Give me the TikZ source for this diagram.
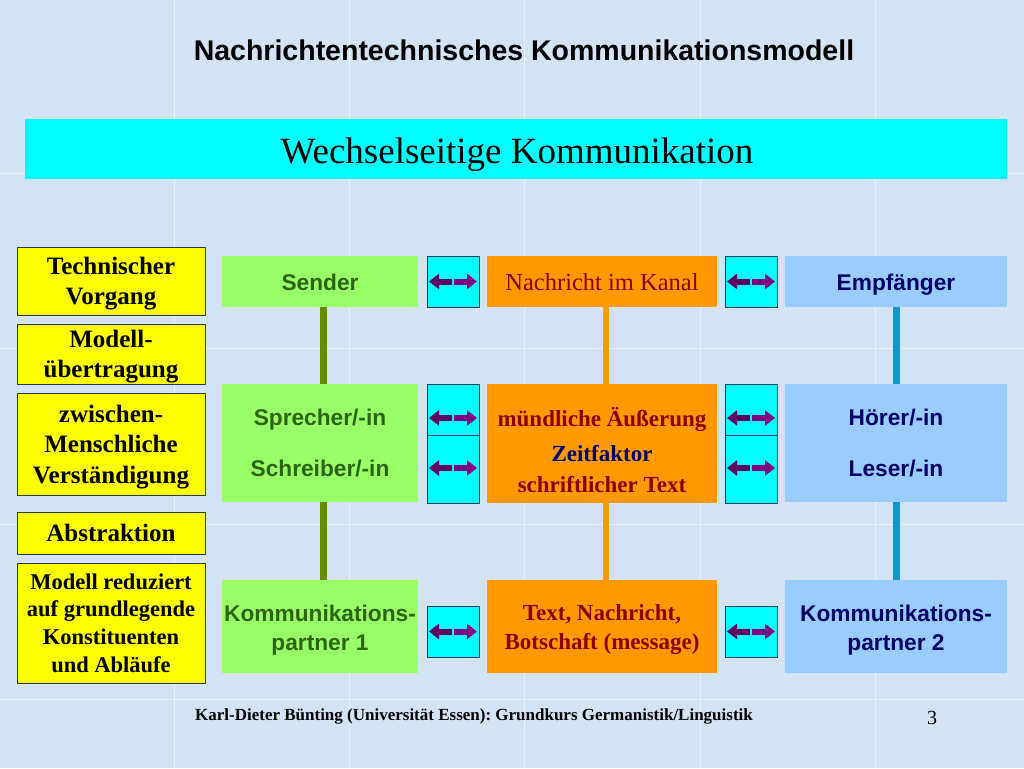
\documentclass[tikz,border=0pt]{standalone}
\usepackage{fontspec}
\setmainfont{Liberation Serif}
\setsansfont{Liberation Sans}
\usetikzlibrary{arrows.meta}
\frenchspacing

\definecolor{hgrund}{RGB}{212,227,243}
\definecolor{tuerkis}{RGB}{0,255,255}
\definecolor{gelb}{RGB}{255,255,0}
\definecolor{hgruen}{RGB}{153,255,102}
\definecolor{dgruen}{RGB}{45,100,20}
\definecolor{oliv}{RGB}{102,140,0}
\definecolor{orangefeld}{RGB}{255,153,0}
\definecolor{dunkelrot}{RGB}{140,0,0}
\definecolor{marine}{RGB}{0,0,102}
\definecolor{hblau}{RGB}{153,204,255}
\definecolor{stahlblau}{RGB}{20,150,204}
\definecolor{lila}{RGB}{128,0,128}
\definecolor{dlila}{RGB}{96,0,96}
\definecolor{rand}{RGB}{40,60,90}

\newcommand{\gr}[2]{\fontsize{#1}{#2}\selectfont}
% zwei Pfeile in einem Kasten: Knoten, Versatz nach unten
\newcommand{\doppelpfeil}[2]{%
	\draw[dlila, line width=6pt, -{Triangle[length=10pt,width=15pt]}] (#1.center) ++(-1,#2) -- ++(-23,0);
	\draw[lila, line width=6pt, -{Triangle[length=10pt,width=15pt]}] (#1.center) ++(1,#2) -- ++(23,0);
}

\tikzset{
	vorgang/.style={draw=rand, line width=0.8pt, fill=gelb, minimum width=188pt, align=center, inner sep=0pt, text depth=0pt, font=\bfseries\gr{25}{30.5}},
	sender/.style={fill=hgruen, minimum width=196pt, align=center, inner sep=0pt, text=dgruen, font=\sffamily\bfseries\gr{22.7}{29}},
	kanal/.style={fill=orangefeld, minimum width=230pt, align=center, inner sep=0pt, text=dunkelrot, font=\bfseries\gr{23}{29}},
	empfaenger/.style={fill=hblau, minimum width=222pt, align=center, inner sep=0pt, text=marine, font=\sffamily\bfseries\gr{22.7}{29}},
	pfeilkasten/.style={draw=rand, line width=0.8pt, fill=tuerkis, minimum width=52pt, inner sep=0pt},
	zeile/.style={text height=22pt, text depth=4pt},
	verbinder/.style={line width=7pt},
}

\begin{document}
\begin{tikzpicture}[x=1pt, y=-1pt]
	\useasboundingbox (0,0) rectangle (1024,768);
	\fill[hgrund] (0,0) rectangle (1024,768);
	\foreach \k in {174,349,524,700,875} {
		\draw[white, opacity=0.5, line width=0.8pt] (\k,0) -- (\k,768);
	}
	\foreach \k in {173,348,524,699} {
		\draw[white, opacity=0.5, line width=0.8pt] (0,\k) -- (1024,\k);
	}

	% Titel
	\node[font=\sffamily\bfseries\gr{28.5}{32}] (titel) at (524,50) {Nachrichtentechnisches Kommunikationsmodell};
	\node[fill=tuerkis, minimum width=982pt, minimum height=60pt, inner sep=0pt] (band) at (516,149) {};
	\node[font=\gr{37}{40}] (bandtext) at (517,155) {Wechselseitige Kommunikation};

	% linke Spalte
	\node[vorgang, minimum height=68pt] (v1) at (111,281) {Technischer\\Vorgang};
	\node[vorgang, minimum height=60pt] (v2) at (111,354) {Modell-\\übertragung};
	\node[vorgang, minimum height=102pt] (v3) at (111,444) {zwischen-\\Menschliche\\Verständigung};
	\node[vorgang, minimum height=42pt] (v4) at (111,533) {Abstraktion};
	\node[vorgang, minimum height=120pt, font=\bfseries\gr{22.5}{27.7}] (v5) at (111,623) {Modell reduziert\\auf grundlegende\\Konstituenten\\und Abläufe};

	% Kaesten
	\node[sender, zeile, minimum height=51pt] (s1) at (320,281.5) {Sender};
	\node[sender, minimum height=118pt] (s2) at (320,443) {Sprecher/-in\\[22pt]Schreiber/-in};
	\node[sender, minimum height=93pt] (s3) at (320,626.5) {\rule{0pt}{23pt}Kommunikations-\\partner 1};

	\node[kanal, zeile, minimum height=51pt, font=\gr{24.5}{29}] (k1) at (602,281.5) {Nachricht im Kanal};
	\node[kanal, minimum height=119pt] (k2) at (602,443.5) {};
	\node[text=dunkelrot, font=\bfseries\gr{23}{29}, align=center] (k2text) at ([yshift=-7pt]k2.center) {mündliche Äußerung\\[6pt]\textcolor{marine}{Zeitfaktor}\\[2pt]schriftlicher Text};
	\node[kanal, minimum height=93pt] (k3) at (602,626.5) {\rule{0pt}{23pt}Text, Nachricht,\\Botschaft (message)};

	\node[empfaenger, zeile, minimum height=51pt] (e1) at (896,281.5) {Empfänger};
	\node[empfaenger, minimum height=118pt] (e2) at (896,443) {Hörer/-in\\[22pt]Leser/-in};
	\node[empfaenger, minimum height=93pt] (e3) at (896,626.5) {\rule{0pt}{23pt}Kommunikations-\\partner 2};

	% Verbindungen
	\draw[verbinder, oliv] ([xshift=3pt]s1.south) -- ([xshift=3pt]s2.north);
	\draw[verbinder, oliv] ([xshift=3pt]s2.south) -- ([xshift=3pt]s3.north);
	\draw[verbinder, orangefeld, line width=6pt] ([xshift=4pt]k1.south) -- ([xshift=4pt]k2.north);
	\draw[verbinder, orangefeld, line width=6pt] ([xshift=4pt]k2.south) -- ([xshift=4pt]k3.north);
	\draw[verbinder, stahlblau] (e1.south) -- (e2.north);
	\draw[verbinder, stahlblau] (e2.south) -- (e3.north);

	% Pfeile
	\node[pfeilkasten, minimum height=51pt] (p11) at (453,281.5) {};
	\node[pfeilkasten, minimum height=51pt] (p12) at (751,281.5) {};
	\node[pfeilkasten, minimum height=51pt] (p21) at (453,409.5) {};
	\node[pfeilkasten, minimum height=68pt] (p22) at (453,469) {};
	\node[pfeilkasten, minimum height=51pt] (p23) at (751,409.5) {};
	\node[pfeilkasten, minimum height=68pt] (p24) at (751,469) {};
	\node[pfeilkasten, minimum height=51pt] (p31) at (453,631.5) {};
	\node[pfeilkasten, minimum height=51pt] (p32) at (751,631.5) {};
	\doppelpfeil{p11}{0}
	\doppelpfeil{p12}{0}
	\doppelpfeil{p21}{8.5}
	\doppelpfeil{p22}{-1}
	\doppelpfeil{p23}{8.5}
	\doppelpfeil{p24}{-1}
	\doppelpfeil{p31}{0}
	\doppelpfeil{p32}{0}

	% Fusszeile
	\node[font=\bfseries\gr{17}{20}] (quelle) at (474,716) {Karl-Dieter Bünting (Universität Essen): Grundkurs Germanistik/Linguistik};
	\node[font=\gr{20}{24}] (seite) at (932,718) {3};
\end{tikzpicture}
\end{document}
